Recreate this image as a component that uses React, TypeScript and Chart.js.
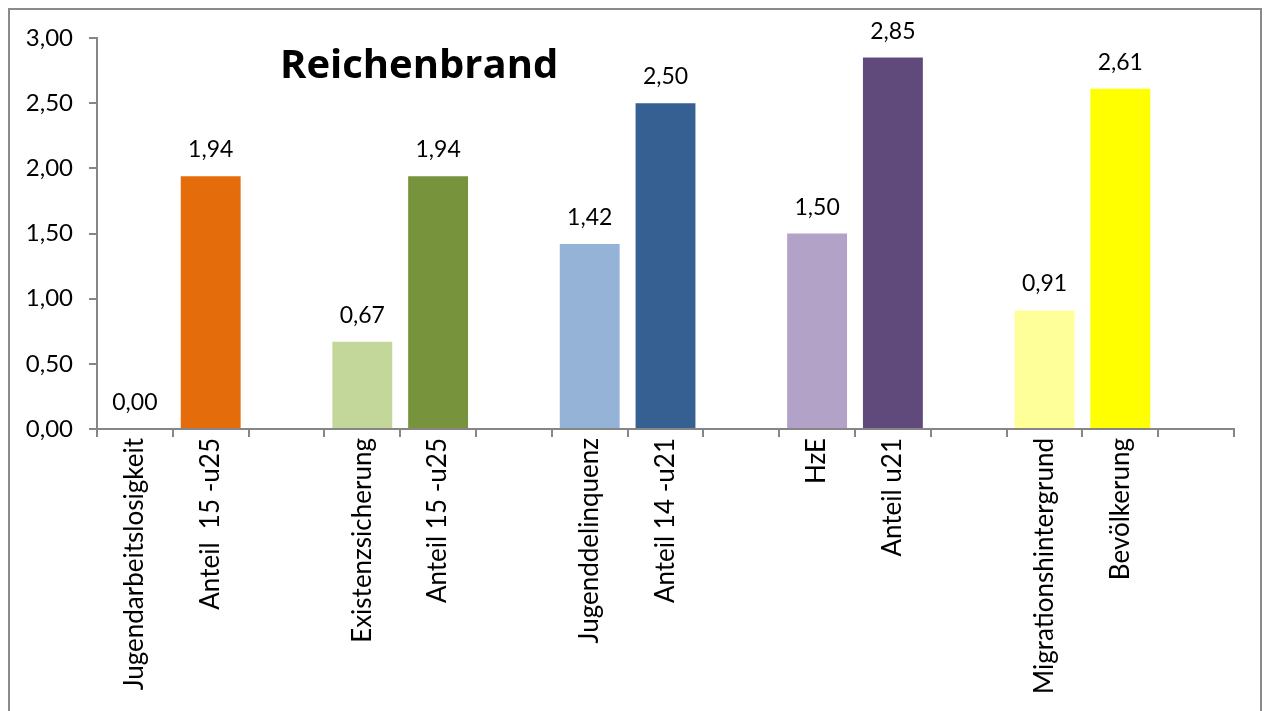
import React, { useEffect, useRef } from "react";
import { Chart, registerables } from "chart.js";

Chart.register(...registerables);

const categories: string[] = [
  "Jugendarbeitslosigkeit",
  "Anteil  15 -u25",
  "",
  "Existenzsicherung",
  "Anteil 15 -u25",
  "",
  "Jugenddelinquenz",
  "Anteil 14 -u21",
  "",
  "HzE",
  "Anteil u21",
  "",
  "Migrationshintergrund",
  "Bevölkerung",
  "",
];

const values: (number | null)[] = [
  0.0, 1.94, null, 0.67, 1.94, null, 1.42, 2.5, null, 1.5, 2.85, null, 0.91, 2.61, null,
];

const barColors: string[] = [
  "#FAC090", "#E46C0A", "#ffffff",
  "#C4D79B", "#77933C", "#ffffff",
  "#95B3D7", "#376092", "#ffffff",
  "#B3A2C7", "#604A7B", "#ffffff",
  "#FFFF99", "#FFFF00", "#ffffff",
];

const yTicks: number[] = [0, 0.5, 1, 1.5, 2, 2.5, 3];

const titleText = "Reichenbrand";

const FONT = "Lato, 'Open Sans', sans-serif";
const TITLE_FONT = "'Open Sans', Lato, sans-serif";

const fmt = (v: number) => v.toFixed(2).replace(".", ",");

const framePlugin = {
  id: "frame",
  beforeDraw(chart: any) {
    const ctx = chart.ctx;
    ctx.save();
    ctx.fillStyle = "#ffffff";
    ctx.fillRect(0, 0, chart.width, chart.height);
    ctx.strokeStyle = "#8a8a8a";
    ctx.lineWidth = 2;
    ctx.strokeRect(9, 9, 1252, 720);
    ctx.restore();
  },
};

const labelsPlugin = {
  id: "valueLabels",
  afterDatasetsDraw(chart: any) {
    const ctx = chart.ctx;
    const meta = chart.getDatasetMeta(0);
    ctx.save();
    ctx.fillStyle = "#000000";
    ctx.font = `23px ${FONT}`;
    ctx.textAlign = "center";
    ctx.textBaseline = "alphabetic";
    meta.data.forEach((el: any, i: number) => {
      const v = values[i];
      if (v === null || v === undefined) return;
      ctx.fillText(fmt(v), el.x, el.y - 19);
    });
    // title
    ctx.font = `bold 40px ${TITLE_FONT}`;
    ctx.textAlign = "left";
    ctx.textBaseline = "alphabetic";
    ctx.fillText(titleText, 280, 78);
    ctx.restore();
  },
};

export default function App() {
  const ref = useRef<HTMLCanvasElement | null>(null);

  useEffect(() => {
    if (!ref.current) return;
    const chart = new Chart(ref.current, {
      type: "bar",
      data: {
        labels: categories,
        datasets: [
          {
            data: values as any,
            backgroundColor: barColors,
            borderWidth: 0,
            barPercentage: 0.79,
            categoryPercentage: 1,
          },
        ],
      },
      options: {
        animation: false,
        responsive: false,
        devicePixelRatio: 1,
        layout: { padding: { left: 0, right: 30, top: 38, bottom: 0 } },
        plugins: {
          legend: { display: false },
          tooltip: { enabled: false },
          title: { display: false },
        },
        scales: {
          x: {
            offset: true,
            grid: {
              offset: true,
              drawOnChartArea: false,
              drawTicks: true,
              tickLength: 8,
              color: "#868686",
              lineWidth: 2,
            },
            border: { color: "#868686", width: 2 },
            ticks: {
              autoSkip: false,
              minRotation: 90,
              maxRotation: 90,
              padding: 1,
              color: "#000000",
              font: { family: FONT, size: 26 },
            },
            afterFit(scale: any) {
              scale.height = 711 - 429;
            },
          },
          y: {
            min: 0,
            max: 3,
            afterBuildTicks(scale: any) {
              scale.ticks = yTicks.map((v) => ({ value: v }));
            },
            grid: {
              drawOnChartArea: false,
              drawTicks: true,
              tickLength: 8,
              color: "#868686",
              lineWidth: 2,
            },
            border: { color: "#868686", width: 2 },
            ticks: {
              padding: 16,
              color: "#000000",
              font: { family: FONT, size: 24 },
              callback: (v: any) => fmt(Number(v)),
            },
            afterFit(scale: any) {
              scale.width = 97;
            },
          },
        },
      },
      plugins: [framePlugin, labelsPlugin],
    });
    return () => chart.destroy();
  }, []);

  return (
    <div
      style={{
        position: "fixed",
        left: 0,
        top: 0,
        width: 1264,
        height: 711,
        overflow: "hidden",
        background: "#fff",
      }}
    >
      <canvas ref={ref} width={1264} height={711} style={{ display: "block" }} />
    </div>
  );
}
